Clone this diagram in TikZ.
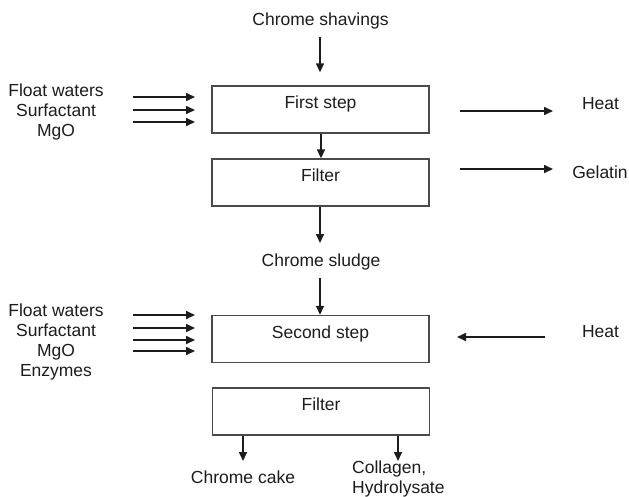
\documentclass[tikz,border=0pt]{standalone}
\usepackage{fontspec}
\setmainfont{Liberation Sans}
\usetikzlibrary{arrows.meta}
\definecolor{ink}{HTML}{1C1C1C}
\definecolor{edge}{HTML}{4A4A4A}
\begin{document}
\begin{tikzpicture}[x=1pt,y=-1pt,
  every node/.style={font=\fontsize{17.5}{20}\selectfont, text=ink},
  stage/.style={draw=edge, line width=1.4pt, minimum width=217pt, minimum height=47pt,
                inner sep=0pt, text height=12.5pt, text depth=14.5pt},
  tag/.style={inner sep=0pt, align=center},
  flow/.style={draw=ink, line width=1.6pt, -{Triangle[length=9pt,width=8pt]}}]
\useasboundingbox (0,0) rectangle (629,496);

% process stages
\node[stage] (s1) at (320.5,109.5) {First step};
\node[stage] (f1) at (320.5,182.5) {Filter};
\node[stage] (s2) at (320.5,339)   {Second step};
\node[stage] (f2) at (321,411.5)   {Filter};

% materials and products
\node[tag] (shav)   at (320.5,21)  {Chrome shavings};
\node[tag] (sludge) at (321,262)   {Chrome sludge};
\node[tag] (in1)    at (56,112)    {Float waters\\Surfactant\\MgO};
\node[tag] (in2)    at (56,342)    {Float waters\\Surfactant\\MgO\\Enzymes};
\node[tag] (heat1)  at (600.5,104) {Heat};
\node[tag] (gel)    at (600,172)   {Gelatin};
\node[tag] (heat2)  at (600.5,332) {Heat};
\node[tag] (cake)   at (243,477)   {Chrome cake};
\node[tag, align=left, anchor=west] (coll) at (352,479) {Collagen,\\Hydrolysate};

% main line
\coordinate (a0) at (320,37);
\draw[flow, shorten >=13pt] (a0) -- (a0 |- s1.north);
\draw[flow] (s1.south -| 321,0) -- (f1.north -| 321,0);
\coordinate (a2) at (320,243);
\draw[flow] (f1.south -| a2) -- (a2);
\coordinate (a3) at (320,278);
\draw[flow] (a3) -- (s2.north -| a3);
\coordinate (c1) at (243,461);
\coordinate (c2) at (398,461);
\draw[flow] (f2.south -| c1) -- (c1);
\draw[flow] (f2.south -| c2) -- (c2);

% feeds into the first step
\foreach \y in {97,110,122}
  \draw[flow] (133,\y) -- (195,\y);
% feeds into the second step
\foreach \y in {315,328,340,351}
  \draw[flow] (133,\y) -- (195,\y);

% side streams
\draw[flow] (460,111) -- (553,111);
\draw[flow] (460,169) -- (553,169);
\draw[flow] (545,337) -- (457,337);
\end{tikzpicture}
\end{document}
